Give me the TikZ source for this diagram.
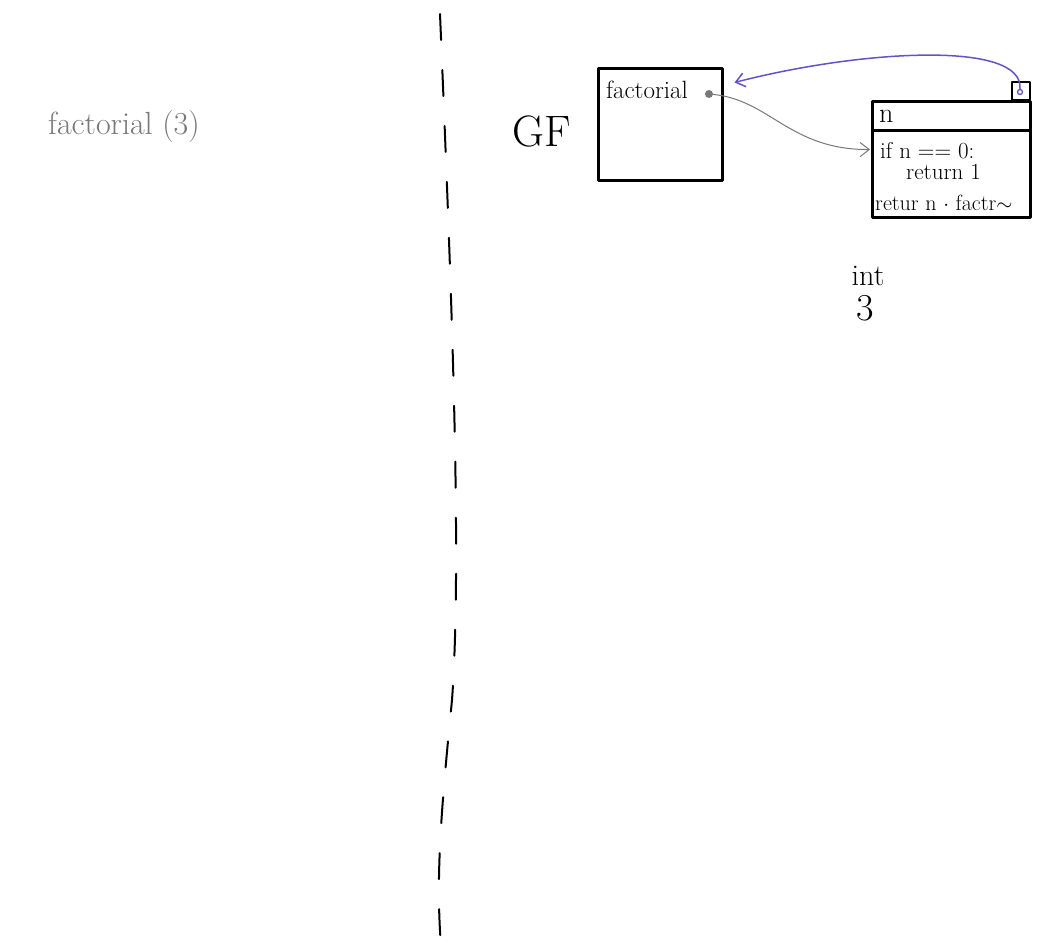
\documentclass[tikz,border=0pt]{standalone}
\usepackage{tikz}
\usetikzlibrary{calc}
\usetikzlibrary{arrows.meta}
\usetikzlibrary{positioning}

\definecolor{ptrblue}{RGB}{98,84,200}
\definecolor{pengray}{RGB}{120,120,120}

\begin{document}
\begin{tikzpicture}[
		x=1pt,
		y=-1pt,
		line cap=round,
		line join=round
		]
		\useasboundingbox[fill=white] (0,0) rectangle (1057,946);
		\tikzstyle{hand}=[
			font=\fontsize{25}{28}\selectfont,
			inner sep=0 pt
		]
		\tikzstyle{frame box}=[
			rectangle,
			draw,
			line width=3 pt,
			minimum width=124 pt,
			minimum height=112 pt,
			inner sep=0 pt
		]
		\tikzstyle{func part}=[
			rectangle,
			draw,
			line width=3 pt,
			minimum width=158 pt,
			inner sep=0 pt,
			outer sep=0 pt
		]
		\tikzstyle{code}=[
			hand,
			font=\fontsize{23}{26}\selectfont,
			anchor=west
		]
		\tikzstyle{ptr}=[
			line width=1.5 pt,
			-{Straight Barb[length=9pt,width=14pt]}
		]
		\tikzstyle{divider}=[
			line width=2 pt,
			dash pattern=on 26pt off 30pt
		]
		% Draw the call written on the left.
			\node[hand, color=pengray, anchor=west, font=\fontsize{32}{36}\selectfont] (call) at (48,127) {factorial (3)};
		% Draw the dashed line in the middle.
			\draw[divider] (440,14) .. controls (452,300) and (462,560) .. (452,700)
				.. controls (440,820) and (436,880) .. (441,946);
		% Draw the global frame.
			\node[hand, font=\fontsize{44}{48}\selectfont, anchor=west] (GF) at (512,131) {GF};
			\node[frame box] (GF-frame) at (660,124) {};
			\node[hand, anchor=west] (fact-name) at (606,90) {factorial};
			\node[circle, fill=pengray, minimum size=8 pt, inner sep=0 pt] (fact-dot) at (709,94) {};
		% Draw the function object.
			\node[func part, minimum height=29 pt] (fn-name) at (951,116) {};
			\node[code, font=\fontsize{28}{30}\selectfont] at ($(fn-name.west)+(7,0)$) {n};
			\node[func part, minimum height=87 pt, below=0 pt of fn-name] (fn-body) {};
			\node[code] (fn-if) at ($(fn-body.north west)+(8,20)$) {if n == 0:};
			\node[code] (fn-ret) at ($(fn-body.north west)+(34,41)$) {return 1};
			\node[code, font=\fontsize{22}{24}\selectfont] (fn-rec) at ($(fn-body.north west)+(3,72)$) {retur n $\cdot$ factr$\sim$};
			\node[rectangle, draw, line width=2.4 pt, minimum size=18 pt, inner sep=0 pt] (fn-tag) at (1021,91) {};
			\node[circle, draw=ptrblue, line width=1.3 pt, minimum size=5 pt, inner sep=0 pt] (tag-dot) at (1020,92) {};
		% Draw the value.
			\node[hand, font=\fontsize{30}{32}\selectfont] (int-type) at (868,276) {int};
			\node[hand, font=\fontsize{38}{40}\selectfont] (int-val) at (865,308) {3};
		% Connect the name to the function and the function to its frame.
			\draw[ptr, color=pengray, line width=1 pt] (fact-dot) .. controls (770,100) and (790,150) .. ($(fn-body.north west)+(-2,19)$);
			\draw[ptr, color=ptrblue] (tag-dot.north) .. controls (1024,40) and (860,50) .. ($(GF-frame.north east)+(11,16)$);
	\end{tikzpicture}
\end{document}
